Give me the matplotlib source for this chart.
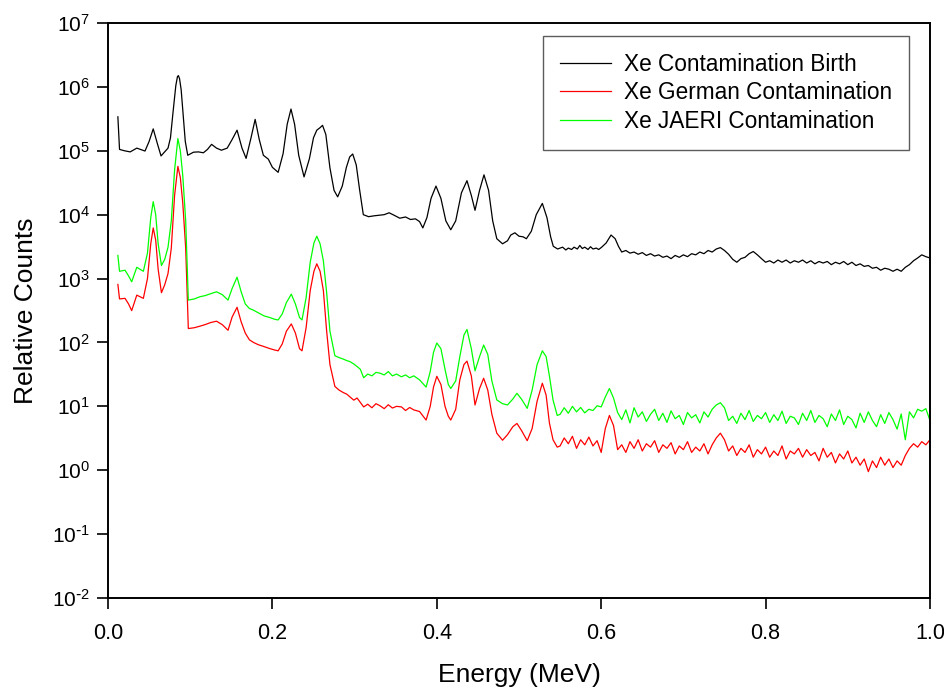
import matplotlib
matplotlib.use("Agg")
import matplotlib.pyplot as plt
from matplotlib.ticker import LogLocator, NullLocator, FuncFormatter
import numpy as np

plt.rcParams['font.family'] = ['Liberation Sans', 'DejaVu Sans']
plt.rcParams['axes.unicode_minus'] = False

# Xe Contamination Birth (black)
birth_e = [0.012, 0.014, 0.020, 0.027, 0.035, 0.045, 0.050, 0.055, 0.060, 0.0645,
           0.073, 0.076, 0.079, 0.0825, 0.0845, 0.0856, 0.087, 0.089, 0.0915, 0.094,
           0.097, 0.104, 0.110, 0.116,
           0.121, 0.126, 0.132, 0.138, 0.145, 0.151, 0.157, 0.163, 0.168, 0.174,
           0.179, 0.184, 0.189, 0.195, 0.200, 0.207, 0.213, 0.218, 0.2226, 0.227,
           0.232, 0.2385, 0.245, 0.250, 0.254, 0.258, 0.261, 0.265, 0.270, 0.275,
           0.2794, 0.285, 0.290, 0.294, 0.2977, 0.302, 0.306, 0.3106, 0.317, 0.324,
           0.330, 0.336, 0.342, 0.348, 0.355, 0.362, 0.368, 0.374, 0.379, 0.383,
           0.388, 0.393, 0.399, 0.405, 0.411, 0.417, 0.423, 0.430, 0.4367, 0.442,
           0.4465, 0.452, 0.4574, 0.463, 0.468, 0.473, 0.480, 0.486, 0.490, 0.495,
           0.500, 0.505, 0.509, 0.515, 0.521, 0.5284, 0.534, 0.5385, 0.5417, 0.547,
           0.553, 0.557, 0.560, 0.564, 0.567, 0.571, 0.574, 0.577, 0.580, 0.584,
           0.587, 0.590, 0.594, 0.597, 0.6006, 0.606, 0.612, 0.617, 0.621,
           0.625, 0.630, 0.635, 0.640, 0.645, 0.650, 0.655, 0.660, 0.665, 0.670,
           0.675, 0.680, 0.685, 0.690, 0.695, 0.700, 0.705, 0.710, 0.715, 0.720,
           0.725, 0.730, 0.735, 0.740, 0.745, 0.750, 0.755, 0.760, 0.765, 0.770,
           0.775, 0.780, 0.785, 0.790, 0.795, 0.800, 0.805, 0.810, 0.815, 0.820,
           0.825, 0.830, 0.835, 0.840, 0.845, 0.850, 0.855, 0.860, 0.865, 0.870,
           0.875, 0.880, 0.885, 0.890, 0.895, 0.900, 0.905, 0.910, 0.915, 0.920,
           0.925, 0.930, 0.935, 0.940, 0.945, 0.950, 0.955, 0.960, 0.965, 0.970,
           0.975, 0.980, 0.985, 0.990, 0.995, 1.000]
birth_c = [3.4e5, 1.05e5, 1.0e5, 9.6e4, 1.1e5, 9.9e4, 1.4e5, 2.2e5, 1.3e5, 8.3e4,
           1.1e5, 1.6e5, 3.9e5, 1.05e6, 1.45e6, 1.5e6, 1.35e6, 9.0e5, 3.5e5, 1.4e5,
           8.5e4, 9.5e4, 9.6e4, 9.3e4,
           1.05e5, 1.26e5, 1.1e5, 1.02e5, 1.1e5, 1.5e5, 2.1e5, 1.1e5, 7.6e4, 1.6e5,
           3.1e5, 1.5e5, 8.5e4, 7.4e4, 5.5e4, 4.6e4, 9.0e4, 2.6e5, 4.5e5, 2.6e5,
           8.5e4, 3.9e4, 7.5e4, 1.6e5, 2.1e5, 2.3e5, 2.5e5, 1.8e5, 5.4e4, 2.4e4,
           1.9e4, 2.8e4, 5.5e4, 8.0e4, 8.9e4, 6.0e4, 2.5e4, 1.0e4, 9.3e3, 9.6e3,
           9.8e3, 1.0e4, 1.07e4, 9.8e3, 8.8e3, 9.2e3, 8.4e3, 8.6e3, 7.8e3, 6.2e3,
           9.0e3, 1.8e4, 2.8e4, 1.8e4, 8.0e3, 5.8e3, 8.0e3, 2.2e4, 3.4e4, 2.0e4,
           1.17e4, 2.4e4, 4.2e4, 2.4e4, 8.0e3, 4.2e3, 3.5e3, 3.9e3, 4.8e3, 5.2e3,
           4.6e3, 4.5e3, 4.2e3, 5.5e3, 1.0e4, 1.5e4, 9.0e3, 4.5e3, 3.2e3, 2.9e3,
           3.1e3, 2.8e3, 3.0e3, 2.85e3, 3.1e3, 2.9e3, 3.3e3, 2.95e3, 3.1e3, 2.85e3,
           3.15e3, 2.9e3, 3.0e3, 2.85e3, 3.1e3, 3.6e3, 4.8e3, 4.2e3, 3.2e3,
           2.6e3, 2.75e3, 2.5e3, 2.6e3, 2.4e3, 2.55e3, 2.3e3, 2.45e3, 2.25e3, 2.35e3,
           2.15e3, 2.25e3, 2.05e3, 2.3e3, 2.15e3, 2.35e3, 2.2e3, 2.45e3, 2.35e3, 2.6e3,
           2.45e3, 2.75e3, 2.6e3, 2.9e3, 3.05e3, 2.75e3, 2.4e3, 2.0e3, 1.8e3, 2.05e3,
           2.15e3, 2.45e3, 2.65e3, 2.35e3, 2.05e3, 1.8e3, 1.9e3, 1.75e3, 1.95e3, 1.8e3,
           1.95e3, 1.75e3, 1.9e3, 1.8e3, 1.95e3, 1.75e3, 1.9e3, 1.7e3, 1.85e3, 1.75e3,
           1.85e3, 1.65e3, 1.8e3, 1.7e3, 1.85e3, 1.65e3, 1.8e3, 1.6e3, 1.7e3, 1.55e3,
           1.6e3, 1.45e3, 1.5e3, 1.35e3, 1.45e3, 1.4e3, 1.3e3, 1.4e3, 1.3e3, 1.5e3,
           1.65e3, 1.9e3, 2.1e3, 2.35e3, 2.2e3, 2.1e3]

# Xe German Contamination (red)
german_e = [0.012, 0.014, 0.0207, 0.025, 0.0288, 0.035, 0.043, 0.048, 0.052, 0.055,
            0.058, 0.061, 0.065, 0.069, 0.073, 0.077, 0.081, 0.085, 0.088, 0.091,
            0.0945, 0.0977, 0.105, 0.112, 0.118, 0.125, 0.132, 0.139, 0.146, 0.151,
            0.157, 0.162, 0.167, 0.172, 0.177, 0.183, 0.190, 0.197, 0.203, 0.207,
            0.212, 0.217, 0.223, 0.228, 0.233, 0.236, 0.241, 0.246, 0.2505, 0.254,
            0.258, 0.262, 0.266, 0.270, 0.276, 0.281, 0.286, 0.2905, 0.2945, 0.299,
            0.303, 0.307, 0.311, 0.316, 0.321, 0.326, 0.331, 0.336, 0.341, 0.346,
            0.351, 0.357, 0.362, 0.367, 0.372, 0.379, 0.387, 0.392, 0.396, 0.400,
            0.405, 0.410, 0.414, 0.417, 0.423, 0.428, 0.433, 0.4367, 0.442, 0.4465,
            0.452, 0.457, 0.462, 0.467, 0.473, 0.480, 0.486, 0.4925, 0.4975, 0.503,
            0.510, 0.516, 0.522, 0.5284, 0.533, 0.537, 0.5414, 0.5465,
            0.550, 0.555, 0.560, 0.565, 0.570, 0.575, 0.580, 0.585, 0.590, 0.595,
            0.600, 0.605, 0.610, 0.615, 0.620, 0.625, 0.630, 0.635, 0.640, 0.645,
            0.650, 0.655, 0.660, 0.665, 0.670, 0.675, 0.680, 0.685, 0.690, 0.695,
            0.700, 0.705, 0.710, 0.715, 0.720, 0.725, 0.730, 0.735, 0.740, 0.745,
            0.750, 0.755, 0.760, 0.765, 0.770, 0.775, 0.780, 0.785, 0.790, 0.795,
            0.800, 0.805, 0.810, 0.815, 0.820, 0.825, 0.830, 0.835, 0.840, 0.845,
            0.850, 0.855, 0.860, 0.865, 0.870, 0.875, 0.880, 0.885, 0.890, 0.895,
            0.900, 0.905, 0.910, 0.915, 0.920, 0.925, 0.930, 0.935, 0.940, 0.945,
            0.950, 0.955, 0.960, 0.965, 0.970, 0.975, 0.980, 0.985, 0.990, 0.995,
            1.000]
german_c = [810, 480, 490, 400, 315, 550, 490, 1.0e3, 3.5e3, 6.2e3,
            4.0e3, 1.4e3, 600, 800, 1.2e3, 3.0e3, 2.0e4, 5.7e4, 3.8e4, 1.5e4,
            3.0e3, 165, 170, 180, 190, 205, 215, 190, 155, 250,
            355, 210, 140, 110, 100, 92, 86, 80, 76, 74,
            95, 150, 195, 140, 80, 74, 170, 650, 1.3e3, 1.7e3,
            1.3e3, 650, 150, 45, 20.5, 18, 16.5, 15.5, 14, 12.5,
            13.5, 11.5, 9.8, 10.8, 9.5, 11.0, 10.2, 9.2, 10.6, 9.4,
            10.0, 9.8, 8.6, 9.6, 8.8, 8.3, 6.1, 10, 20, 29.5,
            22, 10, 7, 6.1, 9, 26, 45, 51, 30, 10.5,
            19, 27.5, 18, 7.5, 3.8, 2.95, 3.6, 4.8, 5.4, 4.2,
            2.9, 4.5, 12, 23, 15, 5.5, 3.0, 2.3,
            2.4, 3.2, 2.6, 3.4, 2.2, 3.0, 2.5, 3.3, 2.4, 2.9,
            1.9, 4.5, 7.2, 5.0, 2.1, 2.5, 1.9, 2.8, 2.2, 3.0,
            2.0, 2.6, 2.3, 2.9, 1.9, 2.5, 2.2, 2.7, 1.8, 2.4,
            2.1, 2.8, 1.9, 2.3, 2.0, 2.6, 1.8, 2.5, 3.2, 3.8,
            3.0, 2.0, 2.4, 1.7, 2.2, 1.9, 2.5, 1.6, 2.1, 1.8,
            2.3, 1.6, 2.0, 1.7, 2.4, 1.5, 2.0, 1.8, 2.2, 1.6,
            2.1, 1.7, 1.9, 1.4, 2.2, 1.6, 1.9, 1.3, 1.8, 1.5,
            2.0, 1.3, 1.6, 1.2, 1.5, 0.95, 1.4, 1.1, 1.6, 1.2,
            1.5, 1.1, 1.4, 1.2, 1.7, 2.2, 2.6, 2.3, 2.8, 2.5,
            3.0]

# Xe JAERI Contamination (green)
jaeri_e = [0.012, 0.014, 0.0207, 0.025, 0.0288, 0.035, 0.043, 0.048, 0.052, 0.055,
           0.058, 0.061, 0.065, 0.069, 0.073, 0.077, 0.081, 0.085, 0.088, 0.091,
           0.0945, 0.0977, 0.105, 0.112, 0.118, 0.125, 0.132, 0.139, 0.146, 0.151,
           0.157, 0.162, 0.167, 0.172, 0.177, 0.183, 0.190, 0.197, 0.203, 0.207,
           0.212, 0.217, 0.223, 0.228, 0.233, 0.236, 0.241, 0.246, 0.2505, 0.254,
           0.258, 0.262, 0.266, 0.270, 0.276, 0.281, 0.286, 0.2905, 0.2945, 0.299,
           0.303, 0.307, 0.311, 0.316, 0.321, 0.326, 0.331, 0.336, 0.341, 0.346,
           0.351, 0.357, 0.362, 0.367, 0.372, 0.379, 0.387, 0.392, 0.396, 0.400,
           0.405, 0.410, 0.414, 0.417, 0.423, 0.428, 0.433, 0.4367, 0.442, 0.4465,
           0.452, 0.457, 0.462, 0.467, 0.473, 0.480, 0.486, 0.4925, 0.4975, 0.503,
           0.510, 0.516, 0.522, 0.5284, 0.533, 0.537, 0.5414, 0.5465,
           0.550, 0.555, 0.560, 0.565, 0.570, 0.575, 0.580, 0.585, 0.590, 0.595,
           0.600, 0.605, 0.610, 0.615, 0.620, 0.625, 0.630, 0.635, 0.640, 0.645,
           0.650, 0.655, 0.660, 0.665, 0.670, 0.675, 0.680, 0.685, 0.690, 0.695,
           0.700, 0.705, 0.710, 0.715, 0.720, 0.725, 0.730, 0.735, 0.740, 0.745,
           0.750, 0.755, 0.760, 0.765, 0.770, 0.775, 0.780, 0.785, 0.790, 0.795,
           0.800, 0.805, 0.810, 0.815, 0.820, 0.825, 0.830, 0.835, 0.840, 0.845,
           0.850, 0.855, 0.860, 0.865, 0.870, 0.875, 0.880, 0.885, 0.890, 0.895,
           0.900, 0.905, 0.910, 0.915, 0.920, 0.925, 0.930, 0.935, 0.940, 0.945,
           0.950, 0.955, 0.960, 0.965, 0.970, 0.975, 0.980, 0.985, 0.990, 0.995,
           1.000]
jaeri_c = [2.3e3, 1.3e3, 1.35e3, 1.1e3, 890, 1.5e3, 1.3e3, 2.5e3, 9.0e3, 1.6e4,
           1.0e4, 3.5e3, 1.6e3, 2.0e3, 3.1e3, 8.0e3, 5.0e4, 1.55e5, 1.0e5, 4.0e4,
           8.0e3, 460, 480, 520, 540, 580, 620, 560, 460, 700,
           1.05e3, 620, 400, 340, 320, 290, 260, 245, 230, 225,
           280, 420, 570, 400, 245, 225, 500, 1.8e3, 3.6e3, 4.6e3,
           3.5e3, 1.9e3, 600, 150, 62, 58, 55, 52, 50, 46,
           42, 38, 28, 32, 30, 34, 33, 31, 35, 30,
           32, 29, 31, 28, 30, 26, 20, 35, 70, 98,
           80, 38, 22, 19, 25, 60, 130, 160, 80, 36,
           60, 91, 65, 25, 12.6, 11, 10.5, 13, 16, 13,
           9.3, 18, 45, 74, 60, 30, 12.6, 7.2,
           7.5, 9.5, 7.8, 10.0, 8.2, 9.6, 7.9, 9.0, 8.6, 10.2,
           9.8, 14, 19, 13.5, 8.0, 6.2, 8.8, 5.5, 9.5, 6.8,
           8.2, 5.8, 7.5, 9.0, 6.0, 7.8, 5.6, 8.5, 6.4, 7.2,
           5.2, 8.0, 6.6, 7.4, 5.5, 8.2, 6.8, 9.0, 10.5, 11.4,
           9.5, 6.0, 7.0, 5.4, 7.8, 6.2, 8.6, 5.8, 7.2, 6.4,
           8.0, 5.6, 7.4, 6.0, 8.4, 5.4, 7.0, 6.6, 5.2, 7.8,
           6.0, 8.6, 5.6, 7.2, 6.4, 4.8, 7.6, 6.0, 8.8, 5.2,
           7.0, 6.2, 4.6, 7.8, 5.6, 8.2, 6.0, 4.8, 7.4, 5.4,
           8.0, 6.2, 4.4, 7.6, 3.0, 8.2, 6.6, 9.0, 8.4, 9.2,
           6.0]


def pow10(v, pos):
    n = int(round(np.log10(v)))
    if n < 0:
        return r'$\mathdefault{10^{\text{-}%d}}$' % (-n)
    return r'$\mathdefault{10^{%d}}$' % n


fig = plt.figure(figsize=(9.45, 6.92), dpi=100)
ax = fig.add_axes([0.1143, 0.1358, 0.8698, 0.831])

ax.plot(birth_e, birth_c, color='black', lw=0.9, label='Xe Contamination Birth')
ax.plot(german_e, german_c, color='#ff0000', lw=0.9, label='Xe German Contamination')
ax.plot(jaeri_e, jaeri_c, color='#00ff00', lw=0.9, label='Xe JAERI Contamination')

ax.set_yscale('log')
ax.set_xlim(0.0, 1.0)
ax.set_ylim(1e-2, 1e7)
ax.set_xticks([0.0, 0.2, 0.4, 0.6, 0.8, 1.0])
ax.set_xticklabels(['0.0', '0.2', '0.4', '0.6', '0.8', '1.0'])
ax.yaxis.set_major_locator(LogLocator(base=10, numticks=20))
ax.yaxis.set_minor_locator(NullLocator())
ax.yaxis.set_major_formatter(FuncFormatter(pow10))
ax.tick_params(direction='out', length=8, width=1.2, labelsize=15,
               top=False, right=False)
ax.tick_params(axis='x', pad=10, labelsize=15.5)
ax.tick_params(axis='y', pad=5)
for sp in ax.spines.values():
    sp.set_linewidth(1.4)

ax.set_xlabel('Energy (MeV)', fontsize=19, labelpad=14)
ax.set_ylabel('Relative Counts', fontsize=19, labelpad=10)

leg = ax.legend(loc='upper left', bbox_to_anchor=(0.529, 0.978), fontsize=16.3,
                frameon=True, fancybox=False, borderpad=0.75, handlelength=2.25,
                handletextpad=0.57, labelspacing=0.25, borderaxespad=0)
leg.get_frame().set_edgecolor('#333333')
leg.get_frame().set_linewidth(1.0)

fig.savefig('out.png', dpi=100)
